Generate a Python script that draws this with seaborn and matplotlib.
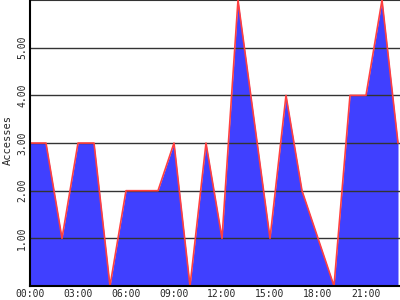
import matplotlib
matplotlib.use("Agg")
import matplotlib.pyplot as plt
import seaborn as sns
import pandas as pd

hours = list(range(24))
accesses = [3, 3, 1, 3, 3, 0, 2, 2, 2, 3, 0, 3, 1, 6, 3.5, 1, 4, 2, 1, 0, 4, 4, 6, 3]
xtick_hours = [0, 3, 6, 9, 12, 15, 18, 21]
xtick_labels = ["00:00", "03:00", "06:00", "09:00", "12:00", "15:00", "18:00", "21:00"]
ytick_values = [1, 2, 3, 4, 5]
ytick_labels = ["1.00", "2.00", "3.00", "4.00", "5.00"]

df = pd.DataFrame({"hour": hours, "accesses": accesses})

sns.set_style("white")
plt.rcParams["font.family"] = ["DejaVu Sans Mono", "DejaVu Sans"]

fig = plt.figure(figsize=(4, 3), dpi=100)
ax = fig.add_axes([0.075, 0.0467, 0.925, 0.953])

ax.fill_between(df["hour"], df["accesses"], 0, color="#4040ff", linewidth=0, zorder=2)
sns.lineplot(data=df, x="hour", y="accesses", ax=ax, color="#ff4040", linewidth=1.2, zorder=3)

ax.set_xlim(0, 23.125)
ax.set_ylim(0, 6)
ax.set_xticks(xtick_hours)
ax.set_xticklabels(xtick_labels, fontsize=7)
ax.set_yticks(ytick_values)
ax.set_yticklabels(ytick_labels, fontsize=7, rotation=90, va="center")
ax.tick_params(axis="both", length=0)
ax.tick_params(axis="x", pad=2)
ax.tick_params(axis="y", pad=2)
ax.grid(axis="y", color="#333333", linewidth=1.0, zorder=4)
ax.set_axisbelow(False)
ax.set_xlabel("")
ax.set_ylabel("Accesses", fontsize=7.5)
ax.yaxis.set_label_coords(-0.047, 0.51)

ax.spines["right"].set_visible(False)
ax.spines["top"].set_color("#333333")
ax.spines["left"].set_color("black")
ax.spines["bottom"].set_color("black")
ax.spines["left"].set_linewidth(1.5)
ax.spines["bottom"].set_linewidth(1.5)
ax.spines["left"].set_zorder(5)
ax.spines["bottom"].set_zorder(5)

fig.savefig("out.png", dpi=100)
